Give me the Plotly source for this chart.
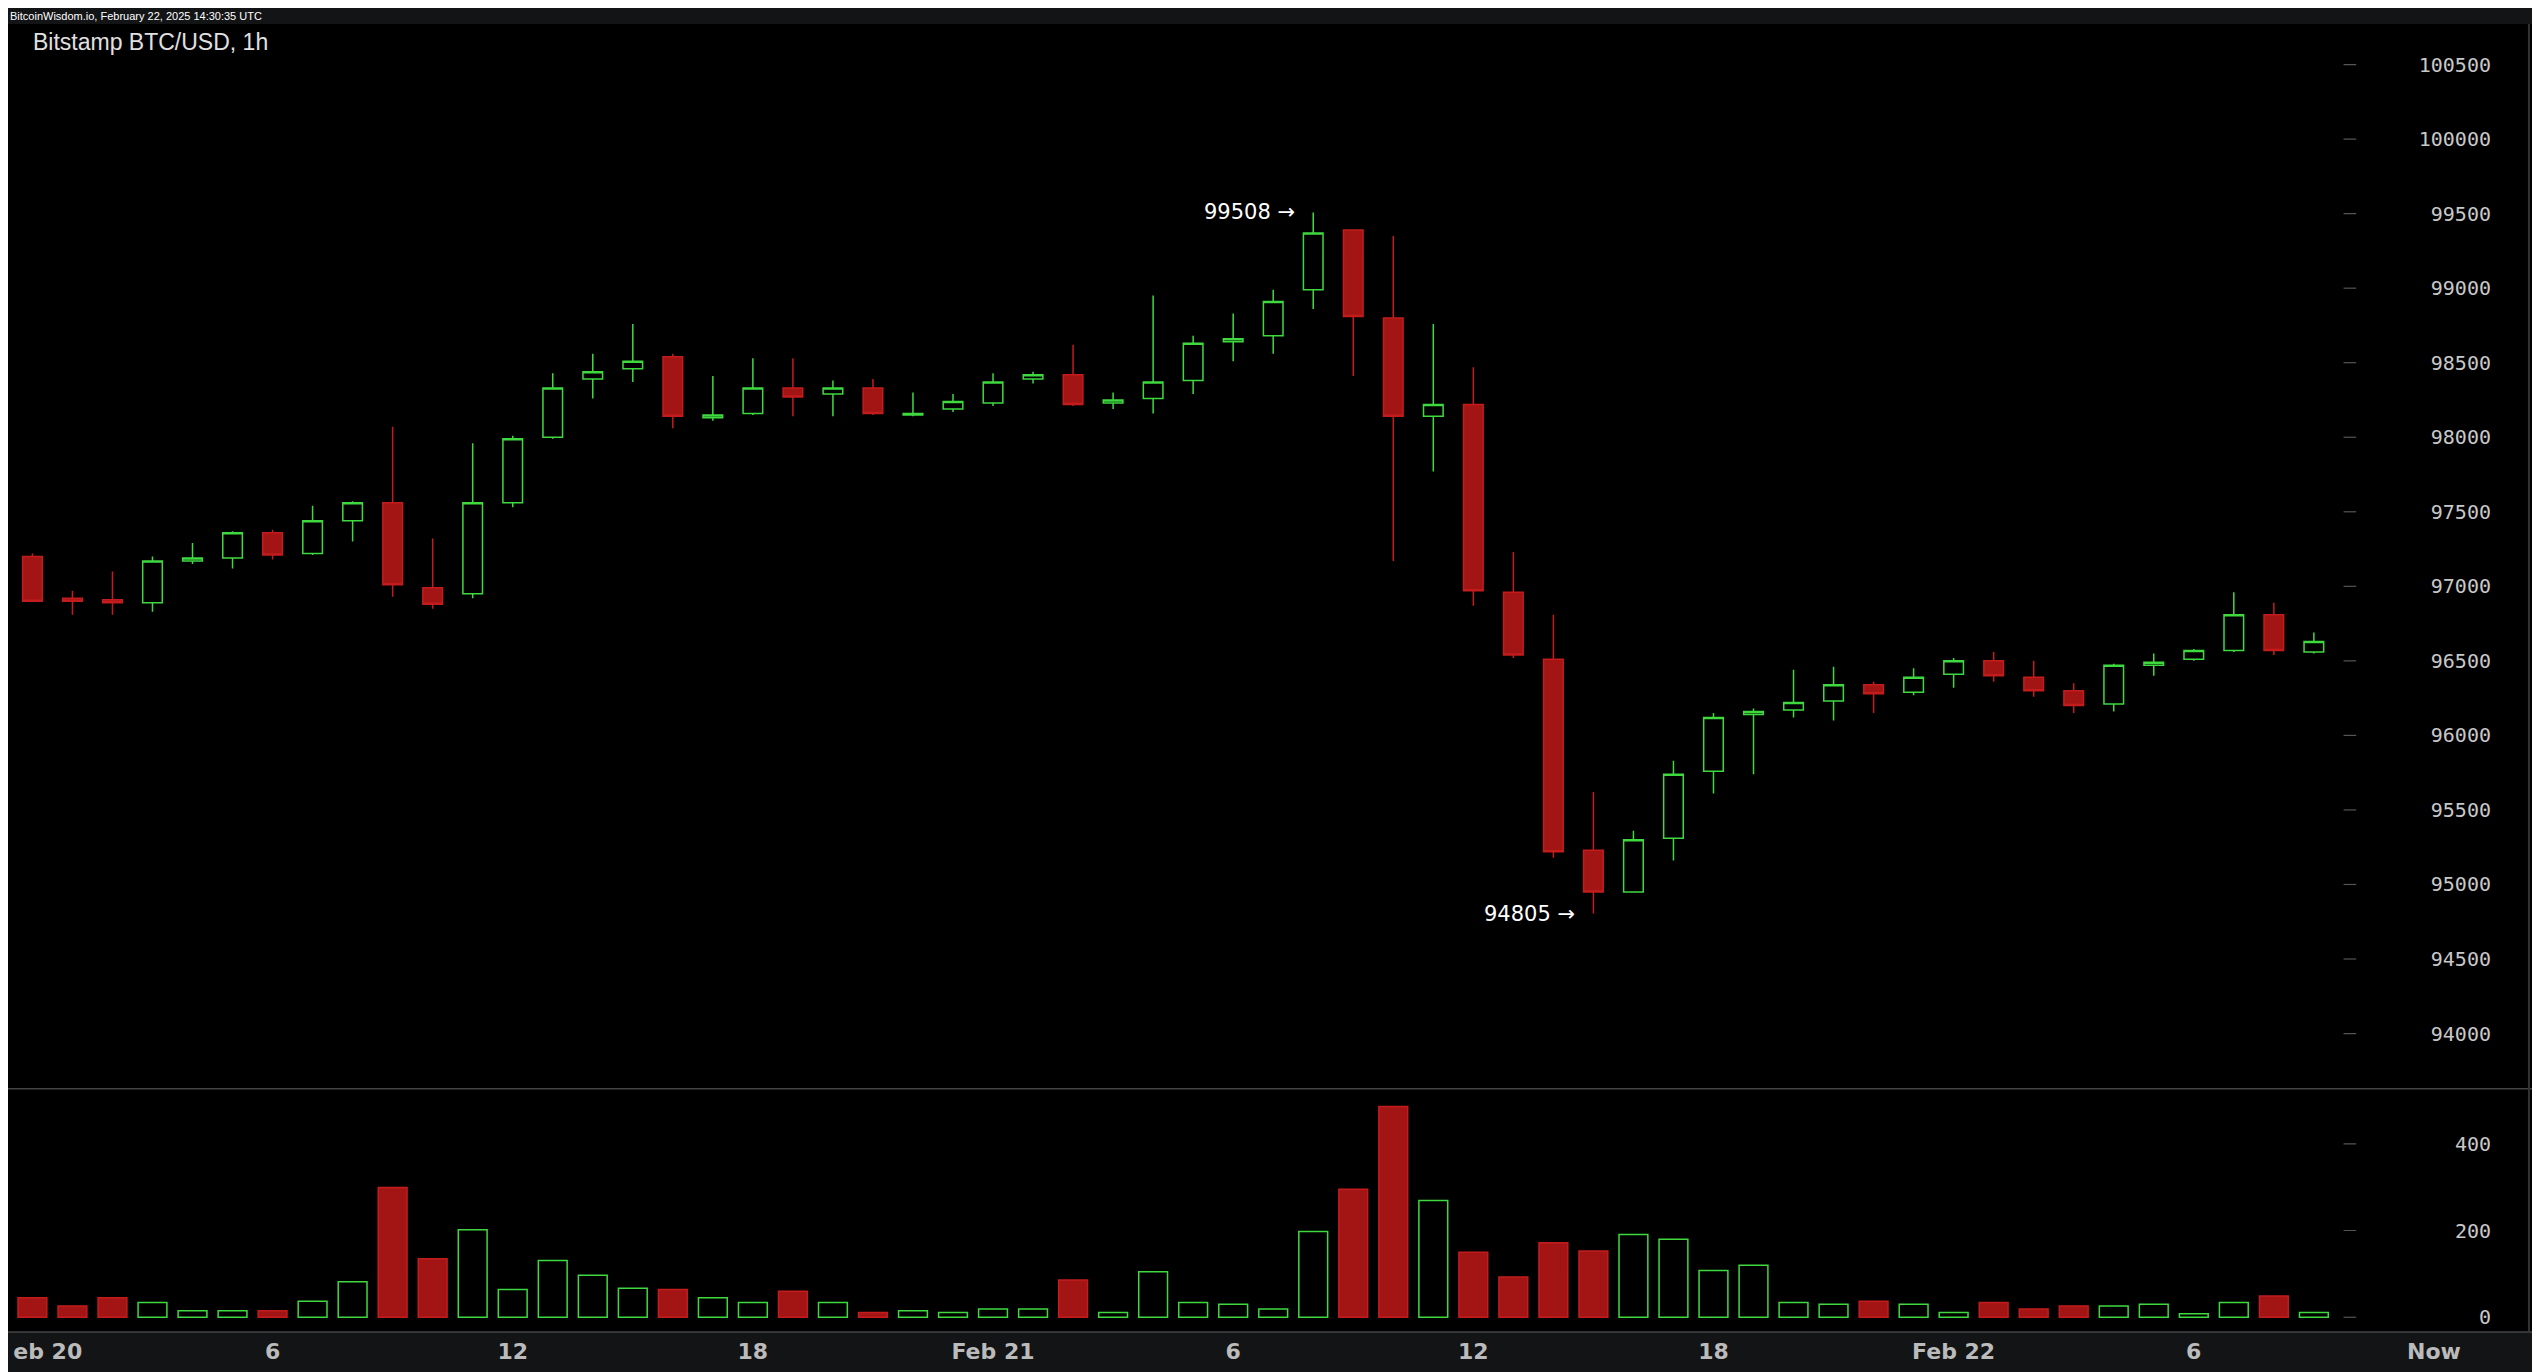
import plotly.graph_objects as go
from plotly.subplots import make_subplots

# hourly candles from Feb 20 00:00 UTC (hour index)
opens = [97200, 96920, 96910, 96890, 97170, 97190, 97360, 97220, 97440, 97560,
         96990, 96950, 97560, 98000, 98390, 98460, 98540, 98130, 98160, 98330,
         98290, 98330, 98150, 98190, 98230, 98390, 98420, 98230, 98260, 98380,
         98640, 98680, 98990, 99390, 98800, 98140, 98220, 96960, 96510, 95230,
         94950, 95310, 95760, 96140, 96170, 96230, 96340, 96290, 96410, 96500,
         96390, 96300, 96210, 96470, 96510, 96570, 96810, 96560]
highs = [97220, 96970, 97100, 97200, 97290, 97370, 97380, 97540, 97570, 98070,
         97320, 97960, 98010, 98430, 98560, 98760, 98560, 98410, 98530, 98530,
         98380, 98390, 98300, 98290, 98430, 98440, 98620, 98300, 98950, 98680,
         98830, 98990, 99508, 99390, 99350, 98760, 98470, 97230, 96810, 95620,
         95360, 95830, 96150, 96180, 96440, 96460, 96360, 96450, 96520, 96560,
         96500, 96350, 96480, 96550, 96580, 96960, 96890, 96690]
lows = [96900, 96810, 96810, 96830, 97150, 97120, 97180, 97210, 97300, 96930,
        96850, 96920, 97530, 97990, 98260, 98370, 98060, 98110, 98150, 98140,
        98140, 98150, 98140, 98170, 98210, 98360, 98210, 98190, 98160, 98290,
        98510, 98560, 98860, 98410, 97170, 97770, 96870, 96520, 95180, 94805,
        94950, 95160, 95610, 95740, 96120, 96100, 96150, 96270, 96320, 96360,
        96260, 96150, 96160, 96400, 96500, 96560, 96540, 96550]
closes = [96900, 96900, 96890, 97170, 97190, 97360, 97210, 97440, 97560, 97010,
          96880, 97560, 97990, 98330, 98440, 98510, 98140, 98150, 98330, 98270,
          98330, 98160, 98160, 98240, 98370, 98420, 98220, 98250, 98370, 98630,
          98660, 98910, 99370, 98810, 98140, 98220, 96970, 96540, 95220, 94950,
          95300, 95740, 96120, 96160, 96220, 96340, 96280, 96390, 96500, 96400,
          96300, 96200, 96470, 96490, 96570, 96810, 96570, 96630]
volumes = [45, 26, 45, 34, 15, 15, 15, 37, 82, 299,
           135, 202, 64, 131, 97, 67, 64, 45, 34, 60,
           34, 11, 15, 11, 19, 19, 86, 11, 105, 34,
           30, 19, 198, 295, 486, 269, 150, 93, 172, 153,
           191, 180, 108, 120, 34, 30, 37, 30, 11, 34,
           19, 26, 26, 30, 8, 34, 49, 11]

x_tick_vals = [0, 6, 12, 18, 24, 30, 36, 42, 48, 54, 60]
x_tick_text = ["\u00a0\u00a0\u00a0\u00a0eb 20", "6", "12", "18", "Feb 21", "6", "12", "18",
               "Feb 22", "6", "Now"]
price_ticks = [94000, 94500, 95000, 95500, 96000, 96500, 97000, 97500, 98000,
               98500, 99000, 99500, 100000, 100500]
vol_ticks = [0, 200, 400]

GREEN = "#3fd93f"
RED_FILL = "#a31414"
RED_LINE = "#c41c1c"

hours = list(range(len(opens)))
up = [c >= o for o, c in zip(opens, closes)]

fig = make_subplots(rows=2, cols=1, shared_xaxes=True, vertical_spacing=0,
                    row_heights=[0.814, 0.186])

fig.add_trace(go.Candlestick(
    x=hours, open=opens, high=highs, low=lows, close=closes,
    increasing=dict(line=dict(color=GREEN, width=1.5), fillcolor="black"),
    decreasing=dict(line=dict(color=RED_LINE, width=1.5), fillcolor=RED_FILL),
    whiskerwidth=0, showlegend=False,
), row=1, col=1)

fig.add_trace(go.Bar(
    x=hours, y=volumes, width=0.72,
    marker=dict(color=["black" if u else RED_FILL for u in up],
                line=dict(color=[GREEN if u else RED_LINE for u in up], width=1.5)),
    showlegend=False,
), row=2, col=1)

# small tick dashes left of the price labels
for row, ticks in [(1, price_ticks), (2, vol_ticks)]:
    fig.add_trace(go.Scatter(x=[57.9] * len(ticks), y=ticks, mode="markers",
                             marker=dict(symbol="line-ew", size=9, line=dict(color="#555", width=1.2)),
                             showlegend=False, hoverinfo="skip"), row=row, col=1)

hi_i = highs.index(max(highs))
lo_i = lows.index(min(lows))
for i, v in [(hi_i, max(highs)), (lo_i, min(lows))]:
    fig.add_annotation(x=i - 0.4, y=v, text=f"{v} →", showarrow=False, xanchor="right",
                       yanchor="middle", font=dict(color="white", size=21, family="DejaVu Sans"),
                       xref="x", yref="y")

fig.add_annotation(x=0.009, y=0.998, xref="paper", yref="paper", xanchor="left", yanchor="top",
                   text="Bitstamp BTC/USD, 1h", showarrow=False,
                   font=dict(color="#e0e0e0", size=23, family="Liberation Sans"))
fig.add_annotation(x=0.0, y=1.0, xref="paper", yref="paper", xanchor="left", yanchor="bottom",
                   text="BitcoinWisdom.io, February 22, 2025 14:30:35 UTC", showarrow=False,
                   font=dict(color="white", size=11, family="Liberation Sans"))

fig.update_layout(
    width=2532, height=1364,
    paper_bgcolor="#131416", plot_bgcolor="black",
    margin=dict(l=0, r=6, t=16, b=40, autoexpand=False),
    font=dict(family="DejaVu Sans Mono", color="#c8c8c8", size=20),
    xaxis_rangeslider_visible=False,
)
fig.update_xaxes(range=[-0.61, 62.5], showgrid=False, zeroline=False, automargin=False,
                 tickvals=x_tick_vals, ticktext=x_tick_text, ticks="", showline=False)
fig.update_xaxes(tickfont=dict(size=22, color="#bbbbbb", family="DejaVu Sans", weight="bold"),
                 ticklabeloverflow="allow", ticklabelstandoff=4, row=2, col=1)
fig.update_yaxes(range=[93630, 100772], showgrid=False, zeroline=False, side="right",
                 ticklabelposition="inside", ticklabelstandoff=40, automargin=False,
                 tickvals=price_ticks, ticktext=[str(t) for t in price_ticks], ticks="",
                 tickfont=dict(size=20, color="#c8c8c8"), row=1, col=1)
fig.update_yaxes(range=[-34, 527], showgrid=False, zeroline=False, side="right",
                 ticklabelposition="inside", ticklabelstandoff=40, automargin=False,
                 tickvals=vol_ticks, ticktext=[str(t) for t in vol_ticks], ticks="",
                 tickfont=dict(size=20, color="#c8c8c8"), row=2, col=1)

# separators
fig.add_shape(type="line", xref="paper", yref="paper", x0=0, x1=1, y0=0.186, y1=0.186,
              line=dict(color="#444", width=1.5))
fig.add_shape(type="line", xref="paper", yref="paper", x0=0, x1=1, y0=0, y1=0,
              line=dict(color="#444", width=1.5))
fig.add_shape(type="line", xref="paper", yref="paper", x0=0.998, x1=0.998, y0=0, y1=1,
              line=dict(color="#333", width=2))

fig.write_html("out.html")
